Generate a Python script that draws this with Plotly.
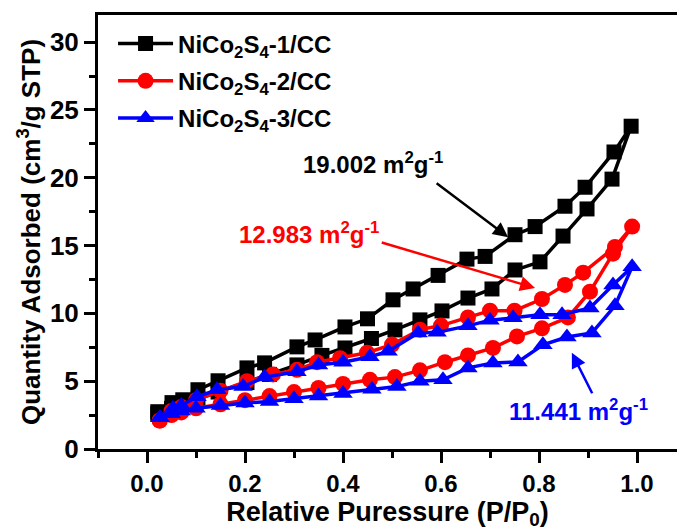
import plotly.graph_objects as go

# ---- data ----
names = ["NiCo<sub>2</sub>S<sub>4</sub>-1/CC", "NiCo<sub>2</sub>S<sub>4</sub>-2/CC", "NiCo<sub>2</sub>S<sub>4</sub>-3/CC"]
colors = ["#000000", "#ff0000", "#0000ff"]
symbols = ["square", "circle", "triangle-up"]

# sample 1 (black)
x1_ads = [0.022, 0.05, 0.073, 0.104, 0.145, 0.204, 0.25, 0.306, 0.357, 0.404, 0.458, 0.506, 0.557, 0.602, 0.655, 0.704, 0.751, 0.802, 0.849, 0.898, 0.949, 0.988]
y1_ads = [2.6, 3.0, 3.3, 3.7, 4.2, 4.9, 5.5, 6.2, 6.9, 7.45, 8.15, 8.78, 9.52, 10.18, 11.13, 11.8, 13.2, 13.8, 15.7, 17.7, 19.9, 23.8]
x1_des = [0.953, 0.894, 0.853, 0.792, 0.751, 0.690, 0.653, 0.594, 0.543, 0.502, 0.45, 0.404, 0.343, 0.306, 0.24, 0.204, 0.145, 0.104, 0.073, 0.051, 0.022]
y1_des = [21.9, 19.3, 17.9, 16.4, 15.8, 14.2, 14.0, 12.8, 11.8, 11.0, 9.6, 9.0, 8.04, 7.53, 6.35, 5.98, 5.03, 4.37, 3.63, 3.42, 2.75]

# sample 2 (red)
x2_ads = [0.026, 0.05, 0.07, 0.10, 0.15, 0.20, 0.25, 0.30, 0.35, 0.40, 0.455, 0.506, 0.557, 0.608, 0.655, 0.706, 0.755, 0.806, 0.859, 0.904, 0.951, 0.99]
y2_ads = [2.1, 2.5, 2.7, 3.0, 3.3, 3.6, 3.9, 4.2, 4.5, 4.8, 5.1, 5.3, 5.8, 6.4, 6.9, 7.45, 8.3, 8.9, 9.7, 11.6, 14.4, 16.4]
x2_des = [0.955, 0.890, 0.853, 0.806, 0.75, 0.70, 0.655, 0.60, 0.557, 0.50, 0.449, 0.394, 0.347, 0.306, 0.257, 0.204, 0.15, 0.10, 0.07, 0.05, 0.026]
y2_des = [14.9, 13.0, 12.1, 11.06, 10.2, 10.2, 9.7, 9.1, 8.8, 7.7, 7.1, 6.7, 6.4, 5.84, 5.5, 5.0, 4.3, 3.6, 3.1, 2.8, 2.1]

# sample 3 (blue)
x3_ads = [0.026, 0.05, 0.07, 0.10, 0.15, 0.20, 0.25, 0.30, 0.35, 0.40, 0.459, 0.51, 0.557, 0.604, 0.655, 0.706, 0.757, 0.808, 0.857, 0.908, 0.955, 0.99]
y3_ads = [2.3, 2.6, 2.8, 3.0, 3.2, 3.4, 3.5, 3.7, 3.9, 4.1, 4.4, 4.6, 5.0, 5.1, 5.98, 6.35, 6.42, 7.68, 8.26, 8.56, 10.56, 13.43]
x3_des = [0.951, 0.904, 0.847, 0.802, 0.747, 0.70, 0.655, 0.592, 0.553, 0.492, 0.455, 0.40, 0.35, 0.306, 0.24, 0.196, 0.143, 0.102, 0.07, 0.053, 0.027]
y3_des = [12.1, 10.4, 9.9, 9.9, 9.67, 9.5, 9.08, 8.6, 8.56, 7.2, 6.8, 6.4, 6.2, 5.7, 5.3, 4.6, 4.37, 3.85, 3.2, 3.0, 2.3]

xs = [x1_ads + x1_des, x2_ads + x2_des, x3_ads + x3_des]
ys = [y1_ads + y1_des, y2_ads + y2_des, y3_ads + y3_des]
msizes = [15, 16, 17]

x_ticks = [0.0, 0.2, 0.4, 0.6, 0.8, 1.0]
x_ticktext = ["0.0", "0.2", "0.4", "0.6", "0.8", "1.0"]
y_ticks = [0, 5, 10, 15, 20, 25, 30]

labels = ["19.002 m<sup>2</sup>g<sup>-1</sup>", "12.983 m<sup>2</sup>g<sup>-1</sup>", "11.441 m<sup>2</sup>g<sup>-1</sup>"]

FONT = "Liberation Sans, Arial, sans-serif"

fig = go.Figure()
for i in range(3):
    fig.add_trace(go.Scatter(
        x=xs[i], y=ys[i], mode="lines+markers", name=names[i],
        legendgroup=str(i),
        line=dict(color=colors[i], width=3.5),
        marker=dict(symbol=symbols[i], size=msizes[i], color=colors[i]),
    ))

# annotations with arrows (text position, arrow tail, arrow head)
txt_pos = [(0.461, 21.07), (0.331, 15.9), (0.88, 2.89)]
arrow_tail = [(0.588, 19.68), (0.476, 15.26), (0.910, 4.0)]
arrow_head = [(0.737, 15.62), (0.792, 11.87), (0.867, 7.09)]
for i in range(3):
    fig.add_annotation(x=txt_pos[i][0], y=txt_pos[i][1], text=labels[i], showarrow=False,
                       font=dict(family=FONT, size=24, color=colors[i], weight="bold"))
    fig.add_annotation(x=arrow_head[i][0], y=arrow_head[i][1], ax=arrow_tail[i][0], ay=arrow_tail[i][1],
                       axref="x", ayref="y", xref="x", yref="y", text="", showarrow=True,
                       arrowhead=2, arrowsize=1.2, arrowwidth=2.5, arrowcolor=colors[i])

fig.update_layout(
    width=677, height=532,
    margin=dict(l=98, r=0, t=15, b=83),
    paper_bgcolor="white", plot_bgcolor="white",
    font=dict(family=FONT, color="black"),
    showlegend=True,
    legend=dict(x=0.026, y=0.985, xanchor="left", yanchor="top", bgcolor="rgba(0,0,0,0)",
                font=dict(family=FONT, size=24, color="black", weight="bold"),
                tracegroupgap=3, itemwidth=55),
    xaxis=dict(range=[-0.1, 1.0816], tickvals=x_ticks, ticktext=x_ticktext,
               showline=True, linecolor="black", linewidth=3, mirror=True,
               ticks="outside", ticklen=11, tickwidth=3, tickcolor="black",
               minor=dict(dtick=0.1, tick0=0, ticks="outside", ticklen=6, tickwidth=3, tickcolor="black"),
               showgrid=False, zeroline=False,
               tickfont=dict(family=FONT, size=24, color="black", weight="bold"),
               title=dict(text="Relative Puressure (P/P<sub>0</sub>)", standoff=0,
                          font=dict(family=FONT, size=27, color="black", weight="bold"))),
    yaxis=dict(range=[0, 32], tickvals=y_ticks,
               showline=True, linecolor="black", linewidth=3, mirror=False,
               ticks="outside", ticklen=11, tickwidth=3, tickcolor="black",
               minor=dict(dtick=2.5, tick0=0, ticks="outside", ticklen=6, tickwidth=3, tickcolor="black"),
               showgrid=False, zeroline=False,
               tickfont=dict(family=FONT, size=26, color="black", weight="bold"),
               title=dict(text="Quantity Adsorbed (cm<sup>3</sup>/g STP)", standoff=2,
                          font=dict(family=FONT, size=26, color="black", weight="bold"))),
)

fig.write_html("out.html")
